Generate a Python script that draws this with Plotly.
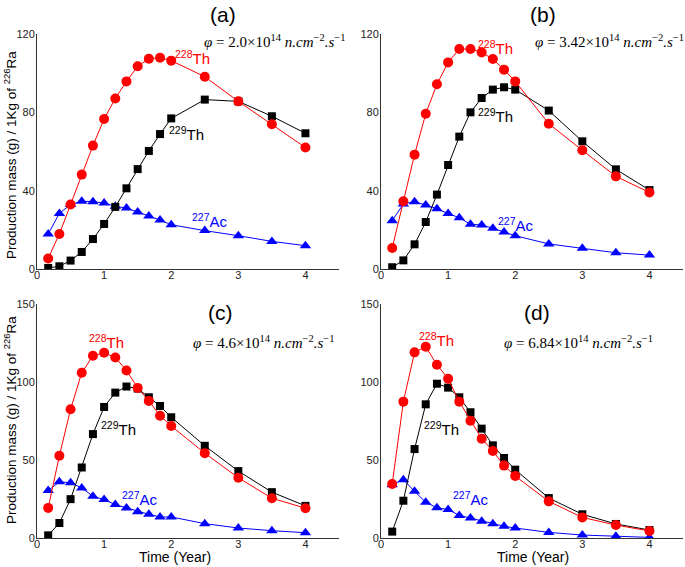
import plotly.graph_objects as go

# Time points (years)
time = [1/6, 2/6, 3/6, 4/6, 5/6, 1.0, 7/6, 8/6, 9/6, 10/6, 11/6, 2.0, 2.5, 3.0, 3.5, 4.0]

# Panel (a): phi = 2.0e14
a_th228 = [5.4, 17.9, 32.9, 48.2, 63.0, 76.6, 87.1, 95.8, 103.5, 107.4, 107.9, 106.4, 98.2, 85.6, 73.9, 62.0]
a_th229 = [0.5, 1.4, 4.3, 8.7, 15.3, 23.0, 31.7, 41.2, 51.0, 60.3, 68.9, 76.9, 86.5, 85.6, 78.0, 69.3]
a_ac227 = [17.9, 28.4, 32.9, 34.6, 34.4, 33.7, 32.0, 31.1, 29.1, 27.1, 25.0, 22.6, 19.6, 17.0, 14.1, 11.9]

# Panel (b): phi = 3.42e14
b_th228 = [10.7, 34.6, 58.4, 79.3, 94.3, 105.5, 112.3, 112.3, 110.6, 107.2, 101.8, 95.8, 74.2, 60.6, 47.3, 39.1]
b_th229 = [0.9, 4.4, 12.6, 24.0, 38.0, 53.1, 67.6, 80.0, 87.3, 91.6, 92.8, 91.6, 80.9, 65.2, 50.9, 40.3]
b_ac227 = [24.7, 33.2, 34.4, 32.7, 30.8, 28.3, 26.2, 22.8, 22.5, 20.8, 18.9, 17.0, 12.8, 10.6, 8.3, 7.1]

# Panel (c): phi = 4.6e14
c_th228 = [19.3, 52.7, 82.5, 105.9, 116.8, 118.7, 115.7, 107.4, 96.2, 87.9, 78.4, 71.8, 54.4, 38.6, 25.5, 19.1]
c_th229 = [1.7, 9.6, 24.9, 45.2, 66.6, 84.0, 93.2, 97.1, 95.8, 90.2, 84.6, 77.4, 59.1, 42.9, 29.4, 20.6]
c_ac227 = [30.4, 36.0, 35.4, 32.1, 26.8, 24.6, 21.4, 19.3, 16.9, 15.2, 13.5, 13.5, 9.2, 6.4, 4.7, 3.4]

# Panel (d): phi = 6.84e14
d_th228 = [34.6, 87.4, 119.0, 122.6, 111.1, 102.1, 87.4, 75.2, 63.7, 55.8, 46.4, 39.7, 23.5, 13.2, 8.3, 4.5]
d_th229 = [4.1, 23.9, 57.0, 85.7, 98.9, 96.4, 90.2, 80.6, 70.1, 59.4, 51.3, 43.8, 25.6, 15.2, 9.0, 5.1]
d_ac227 = [34.2, 37.4, 29.9, 22.9, 19.4, 18.2, 14.5, 12.8, 10.7, 9.2, 7.5, 6.4, 3.6, 1.9, 1.1, 0.4]

panel_titles = ["(a)", "(b)", "(c)", "(d)"]
phi_labels = ["2.0", "3.42", "4.6", "6.84"]
x_ticks = [0, 1, 2, 3, 4]
y_ticks_top = [0, 40, 80, 120]
y_ticks_bottom = [0, 50, 100, 150]

# label positions (data coords) [th228, th229, ac227]
label_pos = [
    [(2.02, 108), (1.93, 69), (2.28, 25)],
    [(1.42, 113), (1.42, 78.5), (1.71, 22.5)],
    [(0.74, 126), (0.92, 70.5), (1.24, 25.5)],
    [(0.53, 127), (0.61, 70.5), (1.04, 25.5)],
]

panels = [
    (a_th228, a_th229, a_ac227),
    (b_th228, b_th229, b_ac227),
    (c_th228, c_th229, c_ac227),
    (d_th228, d_th229, d_ac227),
]

W, H = 685, 567
xdoms = [[37 / W, 339 / W], [381 / W, 683 / W]]
ydoms = [[1 - 269 / H, 1 - 34 / H], [1 - 538 / H, 1 - 304 / H]]

fig = go.Figure()
FONT = "Liberation Sans, Arial, sans-serif"
RED, BLACK, BLUE = "#ff0000", "#000000", "#0000ff"

layout_axes = {}
annotations = []
for i, (th228, th229, ac227) in enumerate(panels):
    r, c = divmod(i, 2)
    xa = "x" if i == 0 else f"x{i+1}"
    ya = "y" if i == 0 else f"y{i+1}"
    for vals, color, sym, size in [(ac227, BLUE, "triangle-up", 10),
                                   (th229, BLACK, "square", 8),
                                   (th228, RED, "circle", 10)]:
        fig.add_trace(go.Scatter(x=time, y=vals, mode="lines+markers",
                                 line=dict(color=color, width=1),
                                 marker=dict(color=color, symbol=sym, size=size),
                                 xaxis=xa, yaxis=ya, showlegend=False,
                                 hoverinfo="skip"))
    yt = y_ticks_top if r == 0 else y_ticks_bottom
    axkw = dict(showline=True, linecolor="#333333", linewidth=1, showgrid=False,
                zeroline=False, ticks="", automargin=False,
                tickfont=dict(family=FONT, size=11, color="#222222"))
    layout_axes["xaxis" if i == 0 else f"xaxis{i+1}"] = dict(
        domain=xdoms[c], range=[0, 4.5], tickvals=x_ticks, anchor=ya,
        ticklabelstandoff=-4, **axkw)
    layout_axes["yaxis" if i == 0 else f"yaxis{i+1}"] = dict(
        domain=ydoms[r], range=[0, yt[-1]], tickvals=yt, anchor=xa,
        ticklabelstandoff=-1, **axkw)

    (p1, p2, p3) = label_pos[i]
    for (px, py), txt, color in [(p1, "<sup>228</sup>Th", RED),
                                 (p2, "<sup>229</sup>Th", BLACK),
                                 (p3, "<sup>227</sup>Ac", BLUE)]:
        annotations.append(dict(x=px, y=py, xref=xa, yref=ya, text=txt,
                                showarrow=False, xanchor="left", yanchor="middle",
                                font=dict(family=FONT, size=15, color=color)))

# panel titles
title_pos = [(223, 14), (543, 14), (220, 312), (537, 312)]
for (px, py), t in zip(title_pos, panel_titles):
    annotations.append(dict(x=px / W, y=1 - py / H, xref="paper", yref="paper",
                            text=t, showarrow=False, xanchor="center", yanchor="middle",
                            font=dict(family=FONT, size=21, color="black")))

# flux labels
phi_pos = [(274, 41), (609, 41), (263, 342), (578, 342)]
for (px, py), v in zip(phi_pos, phi_labels):
    txt = (f"<i>φ</i> = {v}×10<sup>14</sup> <i>n.cm</i><sup>−2</sup><i>.s</i><sup>−1</sup>")
    annotations.append(dict(x=px / W, y=1 - py / H, xref="paper", yref="paper",
                            text=txt, showarrow=False, xanchor="center", yanchor="middle",
                            font=dict(family="Liberation Serif, Times New Roman, serif",
                                      size=15, color="black")))

# y axis titles
for cy in [155, 420]:
    annotations.append(dict(x=10 / W, y=1 - cy / H, xref="paper", yref="paper",
                            text="Production mass (g) / 1Kg of <sup>226</sup>Ra",
                            textangle=-90, showarrow=False, xanchor="center", yanchor="middle",
                            font=dict(family=FONT, size=13.5, color="black")))

# x axis titles
for cx in [175, 533]:
    annotations.append(dict(x=cx / W, y=1 - 557 / H, xref="paper", yref="paper",
                            text="Time (Year)", showarrow=False, xanchor="center",
                            yanchor="middle", font=dict(family=FONT, size=14, color="black")))

fig.update_layout(width=W, height=H, margin=dict(l=0, r=0, t=0, b=0),
                  paper_bgcolor="white", plot_bgcolor="white", hovermode=False,
                  annotations=annotations, **layout_axes)

fig.write_html("out.html", config={"displayModeBar": False},
               post_script="document.body.style.margin='0';document.body.style.padding='0';")
